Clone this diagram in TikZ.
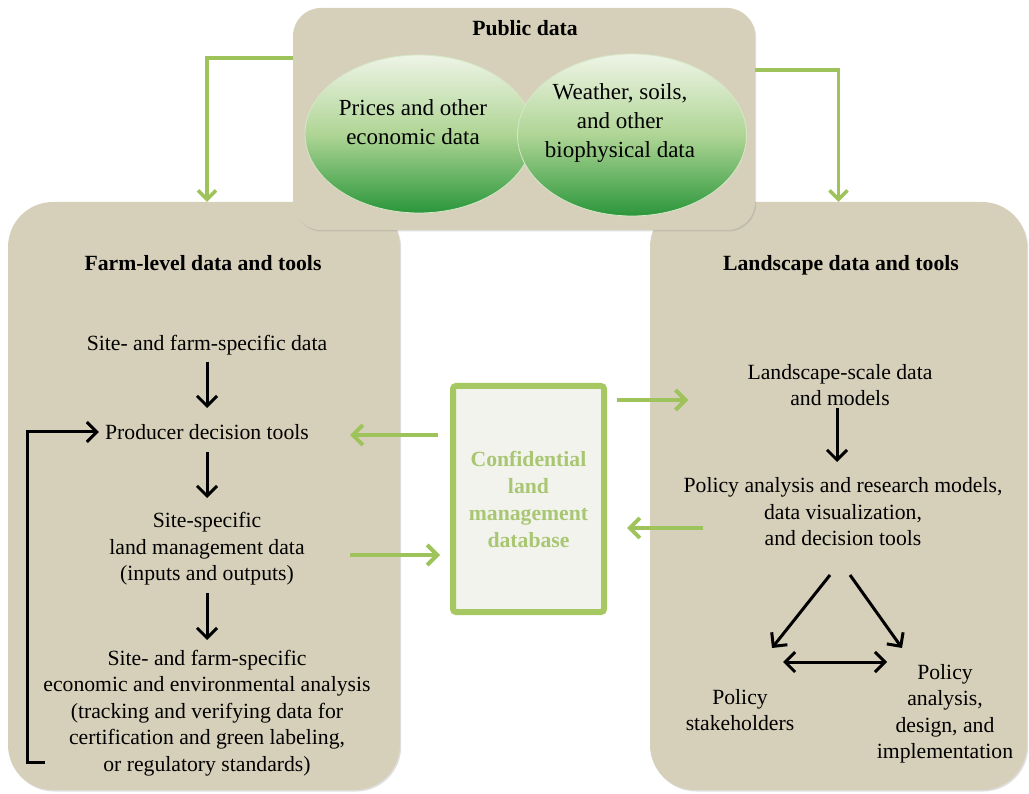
\documentclass[tikz,border=0pt]{standalone}
\usepackage{fontspec}
\setmainfont{Liberation Serif}
\usetikzlibrary{shapes.geometric,arrows.meta,shadows}
\definecolor{beige}{HTML}{D6D0BA}
\definecolor{garrow}{HTML}{9DC35A}
\definecolor{dbedge}{HTML}{A5C862}
\definecolor{dbfill}{HTML}{F3F3EE}
\definecolor{dbtext}{HTML}{A9C672}
\definecolor{elltop}{HTML}{EEF4E6}
\definecolor{ellmid}{HTML}{AFD595}
\definecolor{ellbot}{HTML}{2A963B}
\begin{document}
\begin{tikzpicture}[x=1pt,y=-1pt,
  panel/.style={rectangle, fill=beige, rounded corners=45pt, inner sep=0pt,
    drop shadow={shadow xshift=1.2pt, shadow yshift=-1.5pt, opacity=0.25}},
  ellnode/.style={ellipse, inner sep=0pt, top color=elltop, bottom color=ellbot,
    middle color=ellmid, draw=elltop!60!ellmid, line width=0.8pt},
  dbbox/.style={rectangle, rounded corners=3pt, fill=dbfill, draw=dbedge, line width=6pt,
    align=center, inner sep=0pt, text=dbtext,
    font=\fontsize{21.7}{27}\selectfont\bfseries},
  txt/.style={align=center, inner sep=0pt, font=\fontsize{21.7}{26.5}\selectfont},
  hd/.style={align=center, inner sep=0pt, font=\fontsize{21.7}{26.5}\selectfont\bfseries},
  etxt/.style={align=center, inner sep=0pt, font=\fontsize{23}{29}\selectfont},
  blk/.style={draw=black, line width=3pt, -{Straight Barb[length=10pt,width=20pt]}},
  blkboth/.style={draw=black, line width=3pt, {Straight Barb[length=10pt,width=20pt]}-{Straight Barb[length=10pt,width=20pt]}},
  garr/.style={draw=garrow, line width=4pt, -{Straight Barb[length=10pt,width=20pt]}},
  gelb/.style={draw=garrow, line width=3.5pt, -{Straight Barb[length=9pt,width=18pt]}}
]
\useasboundingbox[fill=white] (0,0) rectangle (1029,794);

% panels
\node[panel, minimum width=392pt, minimum height=588pt] (farm) at (204,496) {};
\node[panel, minimum width=377pt, minimum height=588pt] (land) at (838.5,496) {};
\node[panel, rounded corners=28pt, minimum width=462pt, minimum height=222pt] (pub) at (524,119) {};

% ellipses
\node[ellnode, minimum width=228pt, minimum height=158pt] (ell1) at (419,134) {};
\node[ellnode, minimum width=229pt, minimum height=162pt] (ell2) at (632,135) {};

% database
\node[dbbox, minimum width=151pt, minimum height=226pt] (db) at (528.5,499)
  {Confidential\\land\\management\\database};

% texts
\node[hd] (pubt) at (525,28) {Public data};
\node[etxt] (prices) at (413,122) {Prices and other\\economic data};
\node[etxt] (weather) at (620,123) {Weather, soils,\\and other\\biophysical data};

\node[hd] (farmt) at (203,263) {Farm-level data and tools};
\node[txt] (site) at (207,345) {Site- and farm-specific data};
\node[txt] (producer) at (207,432) {Producer decision tools};
\node[txt] (sitespec) at (207,549) {Site-specific\\land management data\\(inputs and outputs)};
\node[txt] (analysis) at (207,713) {Site- and farm-specific\\economic and environmental analysis\\(tracking and verifying data for\\certification and green labeling,\\or regulatory standards)};

\node[hd] (landt) at (841,265) {Landscape data and tools};
\node[txt] (lscale) at (840,385) {Landscape-scale data\\and models};
\node[txt] (pmodels) at (843,512) {Policy analysis and research models,\\data visualization,\\and decision tools};
\node[txt] (stake) at (740,710) {Policy\\stakeholders};
\node[txt] (impl) at (945,714) {Policy\\analysis,\\design, and\\implementation};

% black arrows
\draw[blk] ([yshift=-17pt]site.center) -- ([yshift=24pt]producer.center);
\draw[blk] ([yshift=-20pt]producer.center) -- ([yshift=51pt]sitespec.center);
\draw[blk] ([yshift=-44pt]sitespec.center) -- ([yshift=73pt]analysis.center);
\draw[blk] ([xshift=-162pt,yshift=-49pt]analysis.center) -- ++(-18,0) |- ([xshift=-6pt]producer.west);
\draw[blk] ([xshift=-3pt,yshift=-23pt]lscale.center) -- ([xshift=-6pt,yshift=50pt]pmodels.center);
\draw[blk] ([xshift=-13pt,yshift=-63pt]pmodels.center) -- ([xshift=32pt,yshift=62pt]stake.center);
\draw[blk] ([xshift=7pt,yshift=-63pt]pmodels.center) -- ([xshift=-43pt,yshift=66pt]impl.center);
\draw[blkboth] ([xshift=43pt,yshift=48pt]stake.center) -- ([xshift=-58pt,yshift=52pt]impl.center);

% green arrows
\draw[gelb] ([yshift=61pt]pub.west) -| ([xshift=3pt]farm.north);
\draw[gelb] ([yshift=49pt]pub.east) -| (land.north);
\draw[garr] ([xshift=-12pt,yshift=64pt]db.west) -- ([xshift=41pt,yshift=-3pt]producer.east);
\draw[garr] ([xshift=45pt,yshift=-6pt]sitespec.east) -- ([xshift=-10pt,yshift=-56pt]db.west);
\draw[garr] ([xshift=10pt,yshift=99pt]db.east) -- ([xshift=-59pt,yshift=-15pt]lscale.west);
\draw[garr] ([xshift=20pt,yshift=-16pt]pmodels.west) -- ([xshift=20pt,yshift=-29pt]db.east);
\end{tikzpicture}
\end{document}
